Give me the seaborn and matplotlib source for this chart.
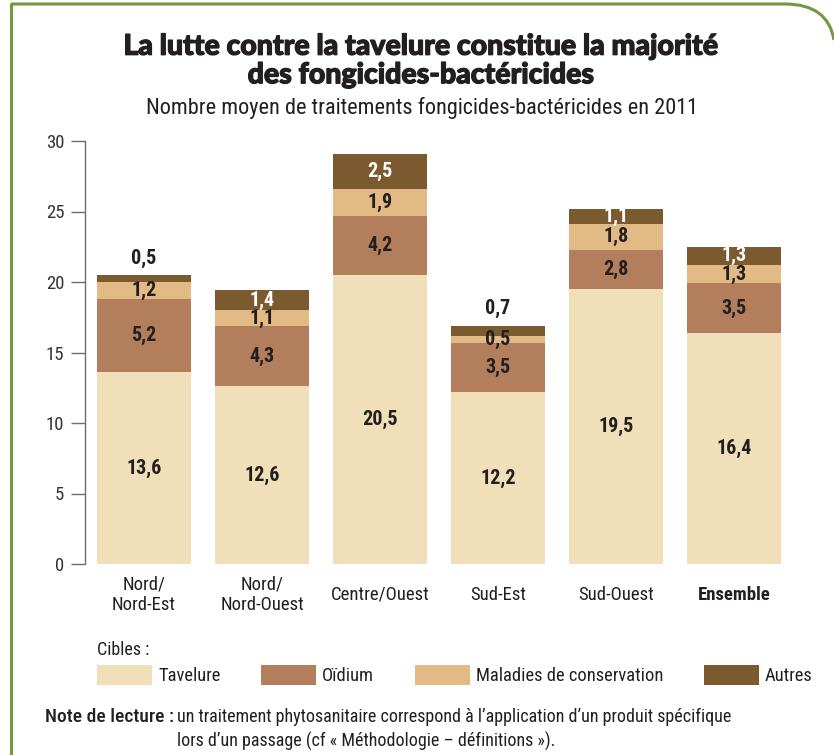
"""Stacked bars: average number of fungicide-bactericide treatments in 2011."""

import matplotlib.patheffects as pe
import matplotlib.pyplot as plt
import numpy as np
import pandas as pd
import seaborn as sns
from matplotlib.lines import Line2D
from matplotlib.patches import Patch, PathPatch
from matplotlib.path import Path

regions = ["Nord/\nNord-Est", "Nord/\nNord-Ouest", "Centre/Ouest", "Sud-Est", "Sud-Ouest", "Ensemble"]
targets = ["Tavelure", "Oïdium", "Maladies de conservation", "Autres"]
tavelure = [13.6, 12.6, 20.5, 12.2, 19.5, 16.4]
oidium = [5.2, 4.3, 4.2, 3.5, 2.8, 3.5]
conservation = [1.2, 1.1, 1.9, 0.5, 1.8, 1.3]
autres = [0.5, 1.4, 2.5, 0.7, 1.1, 1.3]
colors = ["#f0dfb8", "#b37e5c", "#e2ba85", "#7b5a30"]

NARROW = ["Roboto Condensed", "Lato", "DejaVu Sans"]
TEXT = "#231f20"

sns.set_theme(style="white")
plt.rcParams["font.family"] = NARROW

frame = pd.DataFrame(
    {"region": regions, "Tavelure": tavelure, "Oïdium": oidium,
     "Maladies de conservation": conservation, "Autres": autres}
)
cumul = frame[targets].cumsum(axis=1)

fig = plt.figure(figsize=(8.34, 7.55), dpi=100)
ax = fig.add_axes([85 / 834, 191 / 755, 708 / 834, 423 / 755])

# stack by overlaying cumulative totals, largest first
for name, color in reversed(list(zip(targets, colors))):
    sns.barplot(x=frame["region"], y=cumul[name], color=color, width=0.8,
                order=regions, saturation=1, linewidth=0, ax=ax, zorder=2)

for i in range(len(regions)):
    base = 0.0
    for name in targets:
        value = frame.loc[i, name]
        label = f"{value:.1f}".replace(".", ",")
        if name == "Autres" and value < 1.0:
            ax.text(i, base + value + 1.2, label, ha="center", va="center",
                    fontsize=14.5, fontweight="bold", color=TEXT)
        else:
            ax.text(i, base + value / 2, label, ha="center", va="center",
                    fontsize=14.5, fontweight="bold",
                    color="white" if name == "Autres" else TEXT)
        base += value

ax.set_xlim(-0.5, 5.5)
ax.set_ylim(0, 30)
ax.set_yticks(np.arange(0, 31, 5))
ax.set_xlabel("")
ax.set_ylabel("")
sns.despine(ax=ax, bottom=True)
ax.spines["left"].set_color("#6d6e71")
ax.spines["left"].set_linewidth(1.0)
ax.tick_params(axis="y", length=10, width=1.0, color="#6d6e71", pad=5,
               labelsize=13.5, labelcolor="#333333", left=True)
ax.tick_params(axis="x", length=0, pad=22, labelsize=13.5, labelcolor=TEXT)
for tick in ax.get_xticklabels():
    tick.set_verticalalignment("center")
    if tick.get_text() == "Ensemble":
        tick.set_fontweight("bold")

title = fig.text(0.505, 1 - 61 / 755,
                 "La lutte contre la tavelure constitue la majorité\ndes fongicides-bactéricides",
                 ha="center", va="center", fontsize=20.5, fontweight="black",
                 family=["Lato", "DejaVu Sans"], color=TEXT, linespacing=1.12)
title.set_path_effects([pe.withStroke(linewidth=0.9, foreground=TEXT)])
fig.text(0.506, 1 - 108 / 755, "Nombre moyen de traitements fongicides-bactéricides en 2011",
         ha="center", va="center", fontsize=16, color=TEXT)

fig.text(97 / 834, 1 - 650 / 755, "Cibles :", ha="left", va="center", fontsize=13, color=TEXT)
handles = [Patch(facecolor=c, edgecolor="none") for c in colors]
fig.legend(handles, targets, loc="center left", bbox_to_anchor=(97 / 834, 1 - 675 / 755),
           ncol=4, frameon=False, fontsize=13.3, handlelength=3.0, handleheight=1.35,
           handletextpad=0.3, columnspacing=2.2, borderpad=0, borderaxespad=0,
           labelcolor=TEXT)

fig.text(45 / 834, 1 - 717 / 755, "Note de lecture :", ha="left", va="center",
         fontsize=14, fontweight="medium", color=TEXT)
fig.text(177 / 834, 1 - 717 / 755,
         "un traitement phytosanitaire correspond à l’application d’un produit spécifique",
         ha="left", va="center", fontsize=13, color=TEXT)
fig.text(177 / 834, 1 - 741 / 755, "lors d’un passage (cf « Méthodologie – définitions »).",
         ha="left", va="center", fontsize=13, color=TEXT)

# green frame with a rounded top-right corner
green = "#6f9a3f"
fig.add_artist(Line2D([11 / 834, 11 / 834], [0, 1 - 4 / 755], transform=fig.transFigure,
                      color=green, linewidth=2.2))
frame_path = Path([(11 / 834, 1 - 4 / 755), (785 / 834, 1 - 4 / 755),
                   (828 / 834, 1 - 4 / 755), (834 / 834, 1 - 40 / 755)],
                  [Path.MOVETO, Path.LINETO, Path.CURVE3, Path.CURVE3])
fig.add_artist(PathPatch(frame_path, transform=fig.transFigure, facecolor="none",
                         edgecolor=green, linewidth=2.2))

fig.savefig("out.png", dpi=100)
